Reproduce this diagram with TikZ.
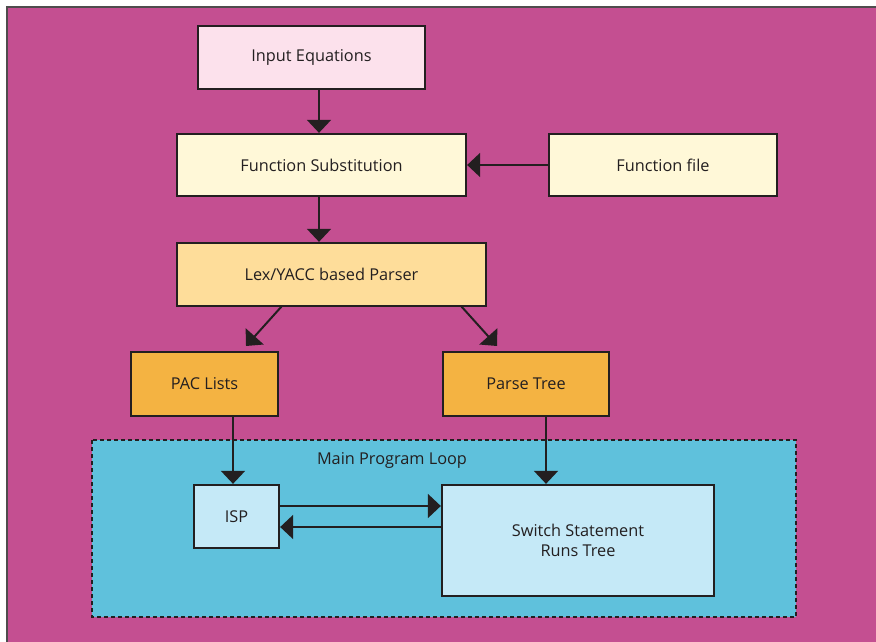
\documentclass[tikz,border=0pt]{standalone}
\usepackage{fontspec}
\setmainfont{Open Sans}
\usetikzlibrary{arrows.meta}
\definecolor{magbg}{HTML}{C44F91}
\definecolor{ink}{HTML}{231F20}
\definecolor{pinkf}{HTML}{FCE1EC}
\definecolor{creamf}{HTML}{FFF8D8}
\definecolor{lexf}{HTML}{FEDD9A}
\definecolor{orangef}{HTML}{F4B342}
\definecolor{loopf}{HTML}{5FC1DC}
\definecolor{ispf}{HTML}{C5E9F7}
\tikzset{
  box/.style={draw=ink, line width=2.3pt, text=ink, font=\fontsize{16.3}{20}\selectfont, align=center, inner sep=0pt},
  conn/.style={draw=ink, line width=2pt, -{Triangle[width=24pt,length=13pt]}},
}
\begin{document}
\begin{tikzpicture}[x=1pt,y=-1pt]
\useasboundingbox (0,0) rectangle (876,642);
\fill[white] (0,0) rectangle (876,642);
\filldraw[fill=magbg, draw=ink!80, line width=1.5pt] (7,7) rectangle (880,646);
% main loop container
\filldraw[fill=loopf, draw=ink, line width=1.6pt, dash pattern=on 4pt off 3pt] (92,440) rectangle (796,617);
\node[text=ink, font=\fontsize{16.3}{20}\selectfont] (looplabel) at (392,460) {Main Program Loop};
% boxes
\node[box, fill=pinkf, minimum width=227pt, minimum height=63pt] (inp) at (311.5,57.5) {Input Equations};
\node[box, fill=creamf, minimum width=289pt, minimum height=62pt] (fsub) at (321.5,165) {Function Substitution};
\node[box, fill=creamf, minimum width=228pt, minimum height=62pt] (ffile) at (663,165) {Function file};
\node[box, fill=lexf, minimum width=309pt, minimum height=63pt] (lex) at (331.5,274.5) {Lex/YACC based Parser};
\node[box, fill=orangef, minimum width=147pt, minimum height=64pt] (pac) at (204.5,384) {PAC Lists};
\node[box, fill=orangef, minimum width=166pt, minimum height=64pt] (ptree) at (526,384) {Parse Tree};
\node[box, fill=ispf, minimum width=85pt, minimum height=63pt] (isp) at (236.5,516.5) {ISP};
\node[box, fill=ispf, minimum width=272pt, minimum height=111pt] (sw) at (578,540.5) {Switch Statement\\Runs Tree};
% connectors
\draw[conn] (inp.south -| 319,0) -- (fsub.north -| 319,0);
\draw[conn] (ffile.west) -- (fsub.east);
\draw[conn] (fsub.south -| 319,0) -- (lex.north -| 319,0);
\coordinate (lpa) at (282,306);
\coordinate (lpb) at (246,346);
\coordinate (lta) at (461,306);
\coordinate (ltb) at (497,346);
\draw[conn] (lpa) -- (lpb);
\draw[conn] (lta) -- (ltb);
\draw[conn] (pac.south -| 233,0) -- (isp.north -| 233,0);
\draw[conn] (ptree.south -| 546,0) -- (sw.north -| 546,0);
\draw[conn] (isp.east |- 0,506) -- (sw.west |- 0,506);
\draw[conn] (sw.west |- 0,527) -- (isp.east |- 0,527);
\end{tikzpicture}
\end{document}
